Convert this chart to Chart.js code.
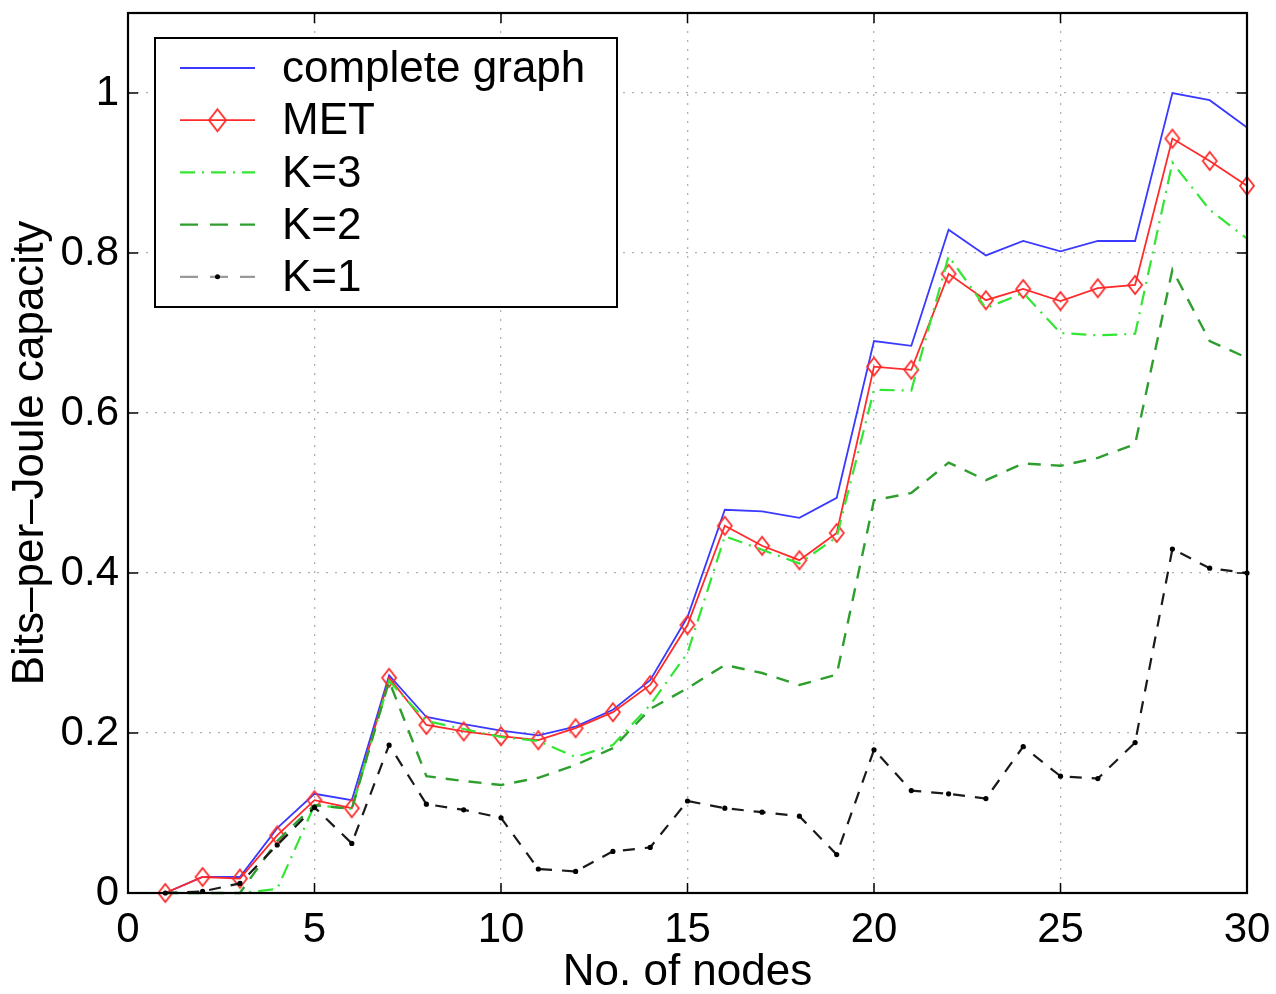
<!DOCTYPE html>
<html><head><meta charset="utf-8">
<script src="https://cdn.jsdelivr.net/npm/chart.js@4/dist/chart.umd.min.js"></script>
<style>html,body{margin:0;padding:0;background:#fff;} canvas{display:block;}</style>
</head><body>
<canvas id="c" width="1276" height="994"></canvas>
<script>
const nodes = [1,2,3,4,5,6,7,8,9,10,11,12,13,14,15,16,17,18,19,20,21,22,23,24,25,26,27,28,29,30];
const completeGraph = [0,0.02,0.02,0.081,0.124,0.116,0.272,0.22,0.211,0.203,0.197,0.208,0.229,0.266,0.345,0.479,0.477,0.469,0.494,0.69,0.684,0.829,0.797,0.815,0.802,0.815,0.815,1.0,0.991,0.957];
const met = [0,0.02,0.018,0.072,0.116,0.106,0.269,0.21,0.202,0.196,0.191,0.206,0.226,0.26,0.335,0.459,0.434,0.416,0.45,0.658,0.654,0.774,0.741,0.755,0.74,0.756,0.76,0.943,0.915,0.884];
const k3 = [0,0,0,0.005,0.11,0.105,0.265,0.215,0.205,0.195,0.19,0.17,0.185,0.235,0.30,0.446,0.429,0.412,0.445,0.629,0.628,0.796,0.731,0.75,0.70,0.697,0.699,0.913,0.854,0.818];
const k2 = [0,0,0,0.065,0.11,0.105,0.265,0.146,0.14,0.135,0.144,0.16,0.181,0.23,0.256,0.285,0.275,0.26,0.273,0.491,0.5,0.538,0.516,0.537,0.534,0.544,0.561,0.779,0.69,0.669];
const k1 = [0,0.002,0.012,0.06,0.107,0.062,0.185,0.111,0.104,0.094,0.03,0.027,0.052,0.057,0.115,0.106,0.101,0.096,0.048,0.179,0.128,0.124,0.118,0.183,0.146,0.143,0.188,0.43,0.406,0.40];
const seriesLabels = ['complete graph','MET','K=3','K=2','K=1'];
const xTicks = [0,5,10,15,20,25,30];
const yTicks = [0,0.2,0.4,0.6,0.8,1];
const xTitle = 'No. of nodes';
const yTitle = 'Bits\u2013per\u2013Joule capacity';

const FONT = '"Liberation Sans", Arial, Helvetica, sans-serif';
const pts = arr => nodes.map((n,i)=>({x:n,y:arr[i]}));

function diamond(w,h,color,lw){
  const c=document.createElement('canvas'); c.width=w+4; c.height=h+4;
  const g=c.getContext('2d'); g.strokeStyle=color; g.lineWidth=lw;
  g.beginPath(); g.moveTo(c.width/2,2); g.lineTo(c.width-2,c.height/2);
  g.lineTo(c.width/2,c.height-2); g.lineTo(2,c.height/2); g.closePath(); g.stroke();
  return c;
}
const diaPlot = diamond(14,18,'#ff2a2a',1.8);
const diaLeg = diamond(17,22,'#ff2a2a',1.8);

const frameAndLegend = {
  id:'frameAndLegend',
  afterDatasetsDraw(chart){
    const ctx=chart.ctx, a=chart.chartArea, xs=chart.scales.x, ys=chart.scales.y;
    ctx.save();
    ctx.strokeStyle='#000'; ctx.lineWidth=2.2; ctx.setLineDash([]);
    ctx.strokeRect(a.left,a.top,a.right-a.left,a.bottom-a.top);
    ctx.lineWidth=1.5;
    const L=(x1,y1,x2,y2)=>{ctx.beginPath();ctx.moveTo(x1,y1);ctx.lineTo(x2,y2);ctx.stroke();};
    xTicks.forEach(v=>{const p=xs.getPixelForValue(v); L(p,a.bottom,p,a.bottom-10); L(p,a.top,p,a.top+10);});
    yTicks.forEach(v=>{const p=ys.getPixelForValue(v); L(a.left,p,a.left+10,p); L(a.right,p,a.right-10,p);});
    // legend
    const bx=a.left+27, by=a.top+25, bw=462, bh=269;
    ctx.fillStyle='#fff'; ctx.fillRect(bx,by,bw,bh);
    ctx.strokeStyle='#000'; ctx.lineWidth=2; ctx.strokeRect(bx,by,bw,bh);
    ctx.font='44px '+FONT; ctx.textBaseline='middle'; ctx.textAlign='left';
    chart.data.datasets.forEach((ds,i)=>{
      const y=by+30+i*52.2, x1=bx+25, x2=bx+100;
      ctx.strokeStyle=ds.legendColor||ds.borderColor; ctx.lineWidth=ds.borderWidth;
      ctx.setLineDash(ds.legendDash||ds.borderDash||[]);
      L(x1,y,x2,y);
      ctx.setLineDash([]);
      if(i===1){ ctx.drawImage(diaLeg,(x1+x2)/2-diaLeg.width/2,y-diaLeg.height/2); }
      if(i===4){ ctx.fillStyle='#000'; ctx.beginPath(); ctx.arc((x1+x2)/2,y,2.5,0,Math.PI*2); ctx.fill(); }
      ctx.fillStyle='#000';
      ctx.fillText(ds.label,bx+127,y+2);
    });
    ctx.restore();
  }
};

new Chart(document.getElementById('c'),{
  type:'line',
  data:{datasets:[
    {label:seriesLabels[0],data:pts(completeGraph),borderColor:'#3a3aff',borderWidth:1.8,pointRadius:0,order:5},
    {label:seriesLabels[1],data:pts(met),borderColor:'#ff2a2a',borderWidth:1.8,pointStyle:diaPlot,pointRadius:9,order:4},
    {label:seriesLabels[2],data:pts(k3),borderColor:'#33e633',borderWidth:2.2,borderDash:[15,7,2,7],pointRadius:0,order:3},
    {label:seriesLabels[3],data:pts(k2),borderColor:'#2e9e2e',borderWidth:2.4,borderDash:[13,10],legendDash:[18,12],pointRadius:0,order:2},
    {label:seriesLabels[4],data:pts(k1),borderColor:'#1a1a1a',legendColor:'#999',borderWidth:2.2,borderDash:[12,10],legendDash:[18,12],pointRadius:2.6,pointStyle:'circle',pointBackgroundColor:'#000',pointBorderColor:'#000',pointBorderWidth:0,order:1}
  ]},
  options:{
    responsive:false, animation:false, devicePixelRatio:1,
    layout:{padding:{top:13,right:29,left:0,bottom:0}},
    elements:{line:{tension:0}},
    datasets:{line:{clip:false}},
    plugins:{legend:{display:false},tooltip:{enabled:false}},
    scales:{
      x:{type:'linear',min:0,max:30,
        afterBuildTicks(s){s.ticks=xTicks.map(v=>({value:v}));},
        afterFit(s){s.height=101; s.paddingLeft=0; s.paddingRight=0; s.paddingTop=0; s.paddingBottom=0;},
        ticks:{padding:12,color:'#000',font:{family:FONT,size:42},callback:v=>String(v),maxRotation:0,autoSkip:false},
        grid:{color:'#b0b0b0',lineWidth:1.3,drawTicks:false},
        border:{display:false,dash:[2,7]},
        title:{display:true,text:xTitle,color:'#000',font:{family:FONT,size:44},padding:{top:0,bottom:-5}}
      },
      y:{type:'linear',min:0,max:1.1,
        afterBuildTicks(s){s.ticks=yTicks.map(v=>({value:v}));},
        afterFit(s){s.width=128; s.paddingLeft=0; s.paddingRight=0; s.paddingTop=0; s.paddingBottom=0;},
        ticks:{padding:9,color:'#000',font:{family:FONT,size:42},callback:v=>String(v),autoSkip:false},
        grid:{color:'#b0b0b0',lineWidth:1.3,drawTicks:false},
        border:{display:false,dash:[2,7]},
        title:{display:true,text:yTitle,color:'#000',font:{family:FONT,size:44},padding:{top:4,bottom:0}}
      }
    }
  },
  plugins:[frameAndLegend]
});
</script>
</body></html>
